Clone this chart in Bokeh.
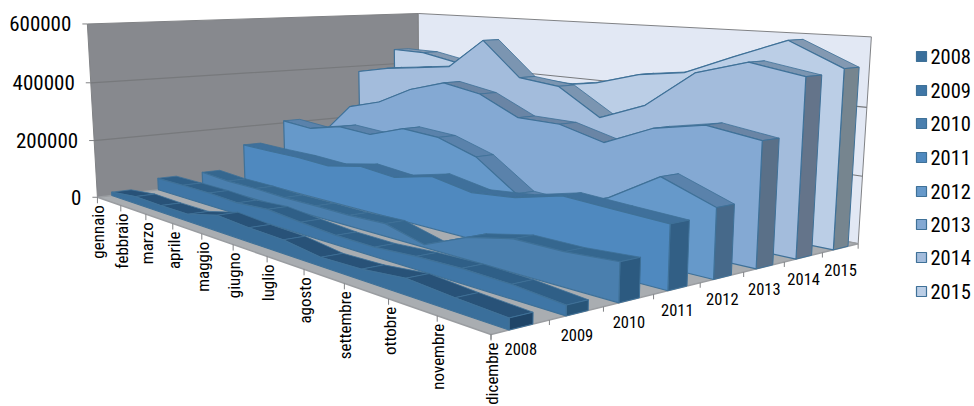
import numpy as np
from bokeh.core.properties import value
from bokeh.embed import file_html
from bokeh.models import ColumnDataSource, Range1d
from bokeh.plotting import figure
from bokeh.resources import INLINE

MONTHS = ["gennaio", "febbraio", "marzo", "aprile", "maggio", "giugno", "luglio",
          "agosto", "settembre", "ottobre", "novembre", "dicembre"]
YEARS = ["2008", "2009", "2010", "2011", "2012", "2013", "2014", "2015"]
Y_TICKS = [0, 200000, 400000, 600000]

V2008 = [12000, 24000, 22000, 23000, 50000, 43000, 40000, 25000, 29000, 43000, 34000, 28000]
V2009 = [42000, 43000, 43000, 38000, 46000, 36000, 28000, 27000, 36000, 40000, 37000, 26000]
V2010 = [45000, 38000, 38000, 34000, 35000, 34000, 39000, 8000, 63000, 92000, 92000, 102000]
V2011 = [131000, 129000, 129000, 123000, 146000, 134000, 163000, 140000, 153000, 186000, 178000, 171000]
V2012 = [208000, 198000, 224000, 216000, 256000, 247000, 206000, 115000, 108000, 159000, 245000, 190000]
V2013 = [145000, 267000, 301000, 362000, 400000, 377000, 316000, 314000, 278000, 340000, 369000, 347000]
V2014 = [378000, 403000, 418000, 434000, 538000, 421000, 406000, 321000, 377000, 489000, 532000, 505000]
V2015 = [458000, 456000, 432000, 415000, 393000, 385000, 407000, 448000, 467000, 528000, 586000, 517000]
SERIES = [V2008, V2009, V2010, V2011, V2012, V2013, V2014, V2015]

FACE = ["#3a6f9b", "#3f76a6", "#4a7fae", "#4f89bf", "#6699ca", "#84a9d3", "#a3bcdc", "#bbcee6"]
TOP = ["#285278", "#2f5f87", "#35678f", "#3f709b", "#5a82ab", "#6a85a5", "#7b95b1", "#8399b2"]
END = ["#1f4568", "#285578", "#2c5a80", "#325f85", "#46698a", "#5a7088", "#64748a", "#76858f"]
EDGE = "#3f7198"

VMAX = 600000.0
CAMERA = np.array([[212.84502, 407.50926, -12.41931, 96.93008],
                   [14.14245, -7.51714, -173.95478, 196.77947],
                   [-0.36846, 0.2048, -0.02696, 1.0]])
RIBBON_FRONT, RIBBON_BACK = 0.30, 0.71


def project(month_pos, depth, val):
    """Perspective projection of (month 0-1, depth 0-1, value) to page pixels."""
    v = CAMERA @ np.array([month_pos, depth, val / VMAX, 1.0])
    return v[0] / v[2], v[1] / v[2]


def polygon(points):
    xy = [project(*q) for q in points]
    return [a for a, _ in xy], [b for _, b in xy]


p = figure(width=974, height=406, output_backend="svg", toolbar_location=None,
           x_range=Range1d(0, 974), y_range=Range1d(406, 0), min_border=0)
p.axis.visible = False
p.grid.visible = False
p.outline_line_color = None
p.background_fill_color = "white"

# Walls and floor of the box
xs, ys = polygon([(0, 0, 0), (0, 1, 0), (0, 1, VMAX), (0, 0, VMAX)])
p.patch(xs, ys, fill_color="#87898e", line_color="#808285", line_width=1)
xs, ys = polygon([(0, 1, 0), (1, 1, 0), (1, 1, VMAX), (0, 1, VMAX)])
p.patch(xs, ys, fill_color="#e2e8f4", line_color="#808285", line_width=1)
xs, ys = polygon([(0, 0, 0), (1, 0, 0), (1, 1, 0), (0, 1, 0)])
p.patch(xs, ys, fill_color="#a9adb1", line_color="#9a9da1", line_width=1.5)

# Gridlines running along both walls
for t in Y_TICKS[1:3]:
    xs, ys = polygon([(0, 0, t), (0, 1, t), (1, 1, t)])
    p.line(xs, ys, line_color="#77797c", line_width=1.2)

# Ribbons, back to front
for i in reversed(range(len(SERIES))):
    vals = SERIES[i]
    wf = (i + RIBBON_FRONT) / len(SERIES)
    wb = (i + RIBBON_BACK) / len(SERIES)
    n = len(vals)
    sx, sy = [], []
    for m in range(n - 1):
        a, b = m / (n - 1), (m + 1) / (n - 1)
        qx, qy = polygon([(a, wf, vals[m]), (b, wf, vals[m + 1]), (b, wb, vals[m + 1]), (a, wb, vals[m])])
        sx.append(qx)
        sy.append(qy)
    p.patches(sx, sy, fill_color=TOP[i], line_color=EDGE, line_width=0.8)
    xs, ys = polygon([(1, wf, 0), (1, wb, 0), (1, wb, vals[-1]), (1, wf, vals[-1])])
    p.patch(xs, ys, fill_color=END[i], line_color=EDGE, line_width=1)
    outline = [(m / (n - 1), wf, vals[m]) for m in range(n)] + [(1, wf, 0), (0, wf, 0)]
    xs, ys = polygon(outline)
    p.patch(xs, ys, fill_color=FACE[i], line_color=EDGE, line_width=1.2)

# Axis ticks
tx, ty = [], []
for m in range(len(MONTHS)):
    x, y = project(m / (len(MONTHS) - 1), 0, 0)
    tx.append([x, x])
    ty.append([y, y + 6])
for i in range(len(YEARS) + 1):
    x, y = project(1, i / len(YEARS), 0)
    tx.append([x, x])
    ty.append([y, y + 5])
for t in Y_TICKS:
    x, y = project(0, 0, t)
    tx.append([x - 5, x])
    ty.append([y, y])
p.multi_line(tx, ty, line_color="#808285", line_width=1)

FONT = value("Roboto Condensed, Roboto, sans-serif")
INK = "#000000"

# Value axis labels
lx, ly = [], []
for t in Y_TICKS:
    x, y = project(0, 0, t)
    lx.append(x - 16)
    ly.append(y)
p.text(lx, ly, text=[str(t) for t in Y_TICKS], text_font=FONT, text_font_size="21px",
       text_color=INK, text_align="right", text_baseline="middle")

# Month labels, rotated and hung from the front edge
lx, ly = [], []
for m in range(len(MONTHS)):
    x, y = project(m / (len(MONTHS) - 1), 0, 0)
    lx.append(x + 1)
    ly.append(y + 8)
p.text(lx, ly, text=MONTHS, text_font=FONT, text_font_size="17px", text_color=INK,
       text_align="right", text_baseline="middle", angle=np.pi / 2)

# Series labels under the right edge
lx, ly = [], []
for i in range(len(YEARS)):
    x, y = project(1, (i + 0.5) / len(YEARS), 0)
    lx.append(x)
    ly.append(y + 22)
p.text(lx, ly, text=YEARS, text_font=FONT, text_font_size="16.5px", text_color=INK,
       text_align="center", text_baseline="middle")

# Legend
leg = ColumnDataSource(dict(x=[921] * 8, y=[56, 90, 123, 157, 191, 224, 257, 291], c=FACE, lab=YEARS,
                            tx=[930] * 8))
p.scatter("x", "y", source=leg, marker="square", size=10, fill_color="c", line_color=EDGE, line_width=1.2)
p.text("tx", "y", text="lab", source=leg, text_font=FONT, text_font_size="20.5px", text_color=INK,
       text_align="left", text_baseline="middle")

open("out.html", "w").write(file_html(p, INLINE))
